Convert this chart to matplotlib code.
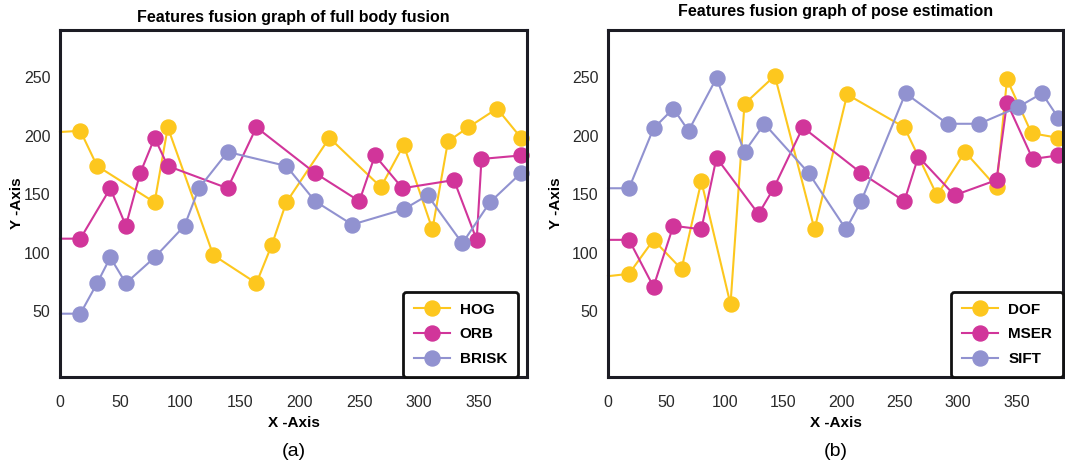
import matplotlib
matplotlib.use("Agg")
import matplotlib.pyplot as plt

plt.rcParams.update({"font.family": ["Liberation Sans", "DejaVu Sans"], "font.size": 11})

YELLOW = "#FDC71E"
MAGENTA = "#D1359A"
LAVENDER = "#9192D0"

# ---- panel (a): full body fusion ----
a_hog_x = [0, 17, 31, 79, 90, 128, 164, 177, 189, 225, 268, 287, 311, 324, 341, 365, 385]
a_hog_y = [203, 204, 174, 143, 207, 98, 74, 107, 143, 198, 156, 192, 120, 195, 207, 223, 198]
a_orb_x = [0, 17, 42, 55, 67, 79, 90, 140, 164, 213, 250, 263, 286, 329, 348, 352, 385]
a_orb_y = [112, 112, 155, 123, 168, 198, 174, 155, 207, 168, 144, 183, 155, 162, 111, 180, 183]
a_brisk_x = [0, 17, 31, 42, 55, 79, 104, 116, 140, 189, 213, 244, 287, 307, 336, 359, 385]
a_brisk_y = [48, 48, 74, 96, 74, 96, 123, 155, 186, 174, 144, 124, 137, 149, 108, 143, 168]

# ---- panel (b): pose estimation ----
b_dof_x = [0, 18, 39, 63, 80, 105, 117, 143, 177, 205, 254, 282, 306, 333, 342, 363, 386]
b_dof_y = [80, 82, 111, 86, 161, 56, 227, 251, 120, 235, 207, 149, 186, 156, 248, 202, 198]
b_mser_x = [0, 18, 39, 56, 80, 93, 129, 142, 167, 217, 254, 266, 297, 333, 342, 364, 386]
b_mser_y = [111, 111, 71, 123, 120, 181, 133, 155, 207, 168, 144, 182, 149, 162, 228, 180, 183]
b_sift_x = [0, 18, 39, 56, 69, 93, 117, 134, 172, 204, 217, 255, 291, 318, 351, 372, 386]
b_sift_y = [155, 155, 206, 223, 204, 249, 186, 210, 168, 120, 144, 236, 210, 210, 224, 236, 215]

x_ticks = [0, 50, 100, 150, 200, 250, 300, 350]
y_ticks = [50, 100, 150, 200, 250]

fig = plt.figure(figsize=(10.65, 4.68), dpi=100)
ax1 = fig.add_axes([60 / 1065, 91 / 468, 467 / 1065, 347 / 468])
ax2 = fig.add_axes([608 / 1065, 91 / 468, 455 / 1065, 347 / 468])


def panel(ax, series, title, tag, right_pad, title_pad, ylab_pad):
    for xs, ys, col, lab in series:
        ax.plot(xs, ys, color=col, lw=1.5, marker="o", ms=10.8, mec=col,
                markevery=slice(1, None), label=lab, clip_on=False)
    ax.set_xlim(0, 390)
    ax.set_ylim(-6, 290)
    ax.set_xticks(x_ticks)
    ax.set_yticks(y_ticks)
    ax.tick_params(length=0, labelsize=11.5, labelcolor="#2a2a2a")
    ax.tick_params(axis="x", pad=13)
    ax.tick_params(axis="y", pad=7)
    for s in ax.spines.values():
        s.set_linewidth(2.2)
        s.set_color("#1c1c24")
    ax.set_title(title, fontsize=11.5, fontweight="bold", pad=title_pad)
    ax.set_xlabel("X -Axis", fontsize=11, fontweight="bold", labelpad=4)
    ax.set_ylabel("Y -Axis", fontsize=11, fontweight="bold", labelpad=ylab_pad)
    leg = ax.legend(loc="lower right", bbox_to_anchor=(1 - right_pad, 0), borderaxespad=0,
                    fancybox=True, edgecolor="#111111", framealpha=1,
                    prop={"weight": "bold", "size": 11}, handlelength=2.35,
                    handletextpad=0.65, labelspacing=0.7, borderpad=0.72)
    leg.get_frame().set_linewidth(2)
    ax.text(0.5, -0.215, tag, transform=ax.transAxes, ha="center", va="center", fontsize=14)


panel(ax1, [(a_hog_x, a_hog_y, YELLOW, "HOG"),
            (a_orb_x, a_orb_y, MAGENTA, "ORB"),
            (a_brisk_x, a_brisk_y, LAVENDER, "BRISK")],
      "Features fusion graph of full body fusion", "(a)", 9 / 467, 5.5, 0)
panel(ax2, [(b_dof_x, b_dof_y, YELLOW, "DOF"),
            (b_mser_x, b_mser_y, MAGENTA, "MSER"),
            (b_sift_x, b_sift_y, LAVENDER, "SIFT")],
      "Features fusion graph of pose estimation", "(b)", 0.0, 10, 6)

fig.savefig("out.png", dpi=100)
